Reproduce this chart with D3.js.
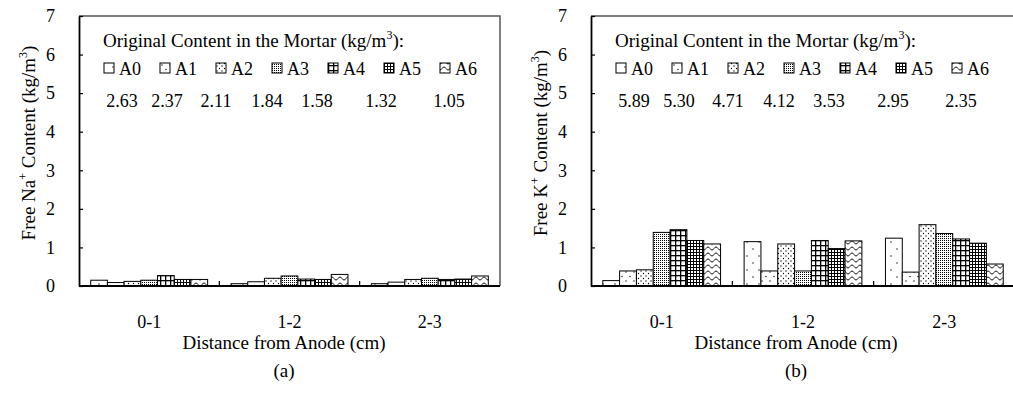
<!DOCTYPE html>
<html>
<head>
<meta charset="utf-8">
<script src="https://cdn.jsdelivr.net/npm/d3@7"></script>
<style>
  body { margin: 0; background: #fff; }
  svg { display: block; font-family: "Liberation Serif", "Times New Roman", serif; }
</style>
</head>
<body>
<svg id="chart" width="1013" height="414"></svg>
<script>
// Free Na+ / K+ content vs. distance from anode

const categories = ['0-1', '1-2', '2-3'];
const series = ['A0', 'A1', 'A2', 'A3', 'A4', 'A5', 'A6'];
const yTicks = [0, 1, 2, 3, 4, 5, 6, 7];

// original content in the mortar (kg/m3), one per series
const naOriginal = ['2.63', '2.37', '2.11', '1.84', '1.58', '1.32', '1.05'];
const kOriginal = ['5.89', '5.30', '4.71', '4.12', '3.53', '2.95', '2.35'];

// free content, one row per distance, A0..A6 in each row
const naFree = [
  [0.15, 0.09, 0.12, 0.15, 0.27, 0.17, 0.17],
  [0.06, 0.11, 0.20, 0.26, 0.18, 0.17, 0.30],
  [0.06, 0.10, 0.17, 0.20, 0.17, 0.18, 0.26]
];
const kFree = [
  [0.14, 0.39, 0.42, 1.39, 1.46, 1.18, 1.09],
  [1.15, 0.39, 1.09, 0.39, 1.18, 0.97, 1.17],
  [1.24, 0.36, 1.59, 1.36, 1.22, 1.11, 0.57]
];

const svg = d3.select('#chart');
const plotTop = 16, plotBottom = 286;

// fill patterns for the series
function setupPatterns() {
  const defs = svg.append('defs');
  const pat = (id, w, h) => {
    const p = defs.append('pattern').attr('id', id)
      .attr('patternUnits', 'userSpaceOnUse').attr('width', w).attr('height', h);
    p.append('rect').attr('width', w).attr('height', h).attr('fill', '#fff');
    return p;
  };
  const dot = (p, x, y, r) => p.append('circle').attr('cx', x).attr('cy', y).attr('r', r).attr('fill', '#000');

  let p = pat('pA0', 12, 14);
  dot(p, 3, 4, 0.7); dot(p, 9, 11, 0.7);

  p = pat('pA1', 8, 9);
  dot(p, 2, 2, 0.7); dot(p, 6, 6.5, 0.7);

  p = pat('pA2', 5, 5);
  dot(p, 1, 1, 0.65); dot(p, 3.5, 3.5, 0.65);

  p = pat('pA3', 2, 2);
  p.append('rect').attr('width', 1).attr('height', 1).attr('fill', '#000');

  p = pat('pA4', 5, 5);
  p.append('rect').attr('width', 5).attr('height', 1.3).attr('fill', '#000');
  p.append('rect').attr('width', 1.3).attr('height', 5).attr('fill', '#000');

  p = pat('pA5', 3, 3);
  p.append('rect').attr('width', 3).attr('height', 1).attr('fill', '#000');
  p.append('rect').attr('width', 1).attr('height', 3).attr('fill', '#000');

  p = pat('pA6', 8, 6);
  p.append('path').attr('d', 'M0,4 C2,4 2,1 4,1 C6,1 6,4 8,4')
    .attr('fill', 'none').attr('stroke', '#000').attr('stroke-width', 0.9);
}

function drawPanel(opt) {
  const g = svg.append('g');
  const x0 = d3.scaleBand().domain(categories).range([opt.left, opt.right]).padding(0);
  const x1 = d3.scaleBand().domain(series).range([0, x0.bandwidth()])
    .paddingInner(0).paddingOuter(0.7);
  const y = d3.scaleLinear().domain([0, 7]).range([plotBottom, plotTop]);

  // frame top/right
  g.append('path')
    .attr('d', `M${opt.left},${plotTop}H${opt.right}V${plotBottom}`)
    .attr('fill', 'none').attr('stroke', '#555').attr('stroke-width', 1.5);

  // bars
  categories.forEach((c, ci) => {
    g.append('g').selectAll('rect')
      .data(opt.values[ci])
      .join('rect')
      .attr('x', (d, i) => x0(c) + x1(series[i]))
      .attr('y', d => y(d))
      .attr('width', x1.bandwidth())
      .attr('height', d => y(0) - y(d))
      .attr('fill', (d, i) => `url(#p${series[i]})`)
      .attr('stroke', '#000')
      .attr('stroke-width', 1);
  });

  // y axis, inward ticks
  const ya = g.append('g')
    .attr('transform', `translate(${opt.left},0)`)
    .call(d3.axisLeft(y).tickValues(yTicks).tickFormat(d3.format('d'))
      .tickSizeInner(-4).tickSizeOuter(0).tickPadding(24));
  ya.attr('font-family', null).attr('font-size', 18);
  ya.select('.domain').attr('stroke-width', 1.8);
  ya.selectAll('.tick line').attr('stroke-width', 1.2);
  ya.selectAll('.tick text').attr('fill', '#000');

  // x axis line + category separators
  g.append('line')
    .attr('x1', opt.left).attr('x2', opt.right)
    .attr('y1', plotBottom).attr('y2', plotBottom)
    .attr('stroke', '#000').attr('stroke-width', 1.8);
  g.selectAll('.sep')
    .data(categories.slice(1))
    .join('line')
    .attr('x1', d => x0(d)).attr('x2', d => x0(d))
    .attr('y1', plotBottom).attr('y2', plotBottom - 5)
    .attr('stroke', '#000').attr('stroke-width', 1.2);

  g.selectAll('.xlab')
    .data(categories)
    .join('text')
    .attr('x', d => x0(d) + x0.bandwidth() / 2)
    .attr('y', 328)
    .attr('text-anchor', 'middle')
    .attr('font-size', 18)
    .text(d => d);

  const midX = opt.left + 205;
  g.append('text')
    .attr('x', midX).attr('y', 349)
    .attr('text-anchor', 'middle').attr('font-size', 19)
    .text('Distance from Anode (cm)');

  g.append('text')
    .attr('x', midX).attr('y', 377)
    .attr('text-anchor', 'middle').attr('font-size', 19)
    .text(opt.tag);

  // y title
  const yt = g.append('text')
    .attr('transform', `translate(${opt.left - 44},${(plotTop + plotBottom) / 2 - 8}) rotate(-90)`)
    .attr('text-anchor', 'middle').attr('font-size', 19);
  yt.append('tspan').text('Free ' + opt.ion);
  yt.append('tspan').attr('dy', -8).attr('font-size', 12).text('+');
  yt.append('tspan').attr('dy', 8).text(' Content (kg/m');
  yt.append('tspan').attr('dy', -8).attr('font-size', 12).text('3');
  yt.append('tspan').attr('dy', 8).text(')');

  // legend
  const lx = opt.left + 24;
  const lt = g.append('text').attr('x', lx).attr('y', 47).attr('font-size', 19);
  lt.append('tspan').text('Original Content in the Mortar (kg/m');
  lt.append('tspan').attr('dy', -8).attr('font-size', 12).text('3');
  lt.append('tspan').attr('dy', 8).text('):');

  const step = 56;
  const item = g.selectAll('.leg')
    .data(series)
    .join('g')
    .attr('transform', (d, i) => `translate(${lx + 1 + i * step},0)`);
  item.append('rect')
    .attr('x', 0).attr('y', 63).attr('width', 10).attr('height', 10)
    .attr('fill', d => `url(#p${d})`).attr('stroke', '#000').attr('stroke-width', 1);
  item.append('text')
    .attr('x', 15).attr('y', 75).attr('font-size', 18)
    .text(d => d);

  const valueX = [19, 64, 113, 164, 214, 278, 346];
  g.selectAll('.orig')
    .data(opt.original)
    .join('text')
    .attr('x', (d, i) => lx + valueX[i])
    .attr('y', 107)
    .attr('text-anchor', 'middle')
    .attr('font-size', 18)
    .text(d => d);
}

setupPatterns();
drawPanel({ left: 79, right: 500, values: naFree, original: naOriginal, ion: 'Na', tag: '(a)' });
drawPanel({ left: 591, right: 1015, values: kFree, original: kOriginal, ion: 'K', tag: '(b)' });
</script>
</body>
</html>
